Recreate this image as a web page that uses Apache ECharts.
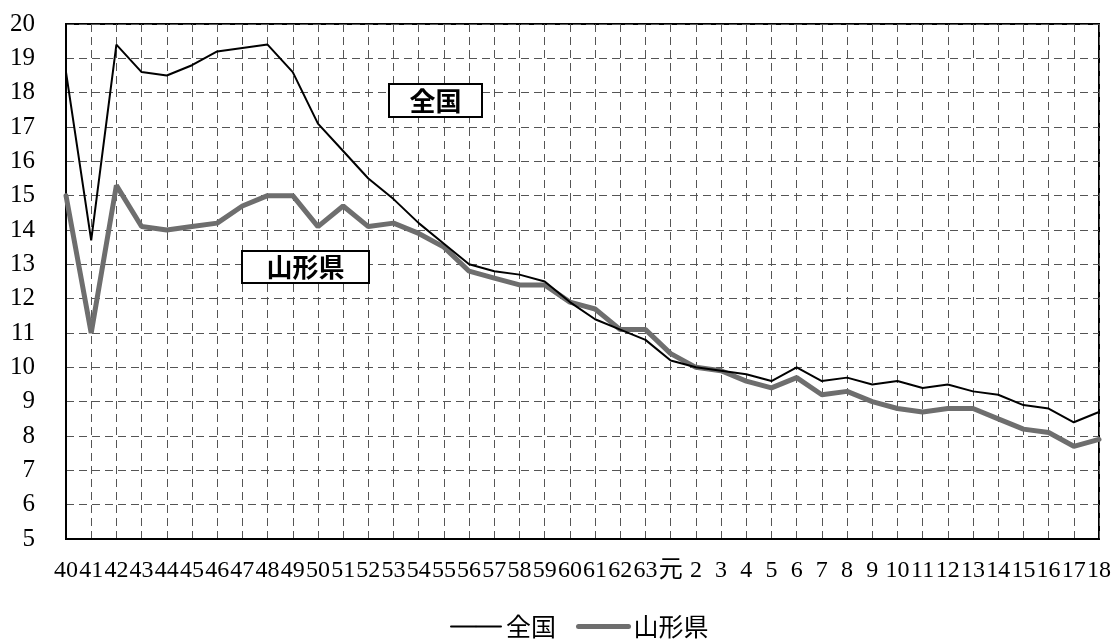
<!DOCTYPE html>
<html>
<head>
<meta charset="utf-8">
<script src="https://cdn.jsdelivr.net/npm/echarts@6/dist/echarts.min.js"></script>
<style>
html,body{margin:0;padding:0;background:#fff;}
#chart{width:1114px;height:639px;}
</style>
</head>
<body>
<div id="chart"></div>
<script>
var categories = ['40','41','42','43','44','45','46','47','48','49','50','51','52','53','54','55','56','57','58','59','60','61','62','63','元','2','3','4','5','6','7','8','9','10','11','12','13','14','15','16','17','18'];
var zenkoku = [18.6,13.7,19.4,18.6,18.5,18.8,19.2,19.3,19.4,18.6,17.1,16.3,15.5,14.9,14.2,13.6,13.0,12.8,12.7,12.5,11.9,11.4,11.1,10.8,10.2,10.0,9.9,9.8,9.6,10.0,9.6,9.7,9.5,9.6,9.4,9.5,9.3,9.2,8.9,8.8,8.4,8.7];
var yamagata = [15.0,11.0,15.3,14.1,14.0,14.1,14.2,14.7,15.0,15.0,14.1,14.7,14.1,14.2,13.9,13.5,12.8,12.6,12.4,12.4,11.9,11.7,11.1,11.1,10.4,10.0,9.9,9.6,9.4,9.7,9.2,9.3,9.0,8.8,8.7,8.8,8.8,8.5,8.2,8.1,7.7,7.9];
var seriesNames = ['全国','山形県'];

var chart = echarts.init(document.getElementById('chart'), null, {renderer:'canvas'});
var gridDash = {type:[8,5], color:'#555', width:1};
chart.setOption({
  animation:false,
  backgroundColor:'#fff',
  grid:{left:66, right:13, top:24, bottom:100, show:true, borderColor:'#000', borderWidth:2, backgroundColor:'transparent'},
  xAxis:{
    type:'category', data:categories, boundaryGap:false,
    axisLine:{show:true, lineStyle:{color:'#000', width:2}},
    axisTick:{show:false},
    axisLabel:{interval:0, hideOverlap:false, color:'#000', fontSize:24, margin:20,
      fontFamily:'"Liberation Serif","DejaVu Serif","Noto Sans CJK JP",serif'},
    splitLine:{show:true, interval:0, lineStyle:gridDash}
  },
  yAxis:{
    type:'value', min:5, max:20, interval:1,
    axisLine:{show:true, lineStyle:{color:'#000', width:2}},
    axisTick:{show:false},
    axisLabel:{color:'#000', fontSize:25, margin:31,
      fontFamily:'"Liberation Serif","DejaVu Serif",serif'},
    splitLine:{show:true, lineStyle:gridDash}
  },
  legend:{
    top:614, left:450, padding:0, itemWidth:50, itemHeight:2, itemGap:20,
    lineStyle:{width:'inherit', cap:'round'},
    textStyle:{color:'#000', fontSize:25, fontFamily:'"Noto Sans CJK JP",sans-serif', fontWeight:'normal'},
    data:seriesNames
  },
  series:[
    {name:seriesNames[0], type:'line', data:zenkoku, symbol:'none', z:3,
     lineStyle:{color:'#000', width:2}, itemStyle:{color:'#000'}},
    {name:seriesNames[1], type:'line', data:yamagata, symbol:'none', z:2,
     lineStyle:{color:'#6e6e6e', width:5, cap:'round'}, itemStyle:{color:'#6e6e6e'}}
  ],
  graphic:[
    {type:'rect', shape:{x:389, y:84, width:93, height:33}, style:{fill:'#fff', stroke:'#000', lineWidth:2}, z:10},
    {type:'text', x:435.5, y:101, style:{text:'全国', fill:'#000', font:'bold 26px "Noto Sans CJK JP"', align:'center', verticalAlign:'middle'}, z:11},
    {type:'rect', shape:{x:242, y:251, width:127, height:32}, style:{fill:'#fff', stroke:'#000', lineWidth:2}, z:10},
    {type:'text', x:305.5, y:267.5, style:{text:'山形県', fill:'#000', font:'bold 26px "Noto Sans CJK JP"', align:'center', verticalAlign:'middle'}, z:11}
  ]
});
</script>
</body>
</html>
